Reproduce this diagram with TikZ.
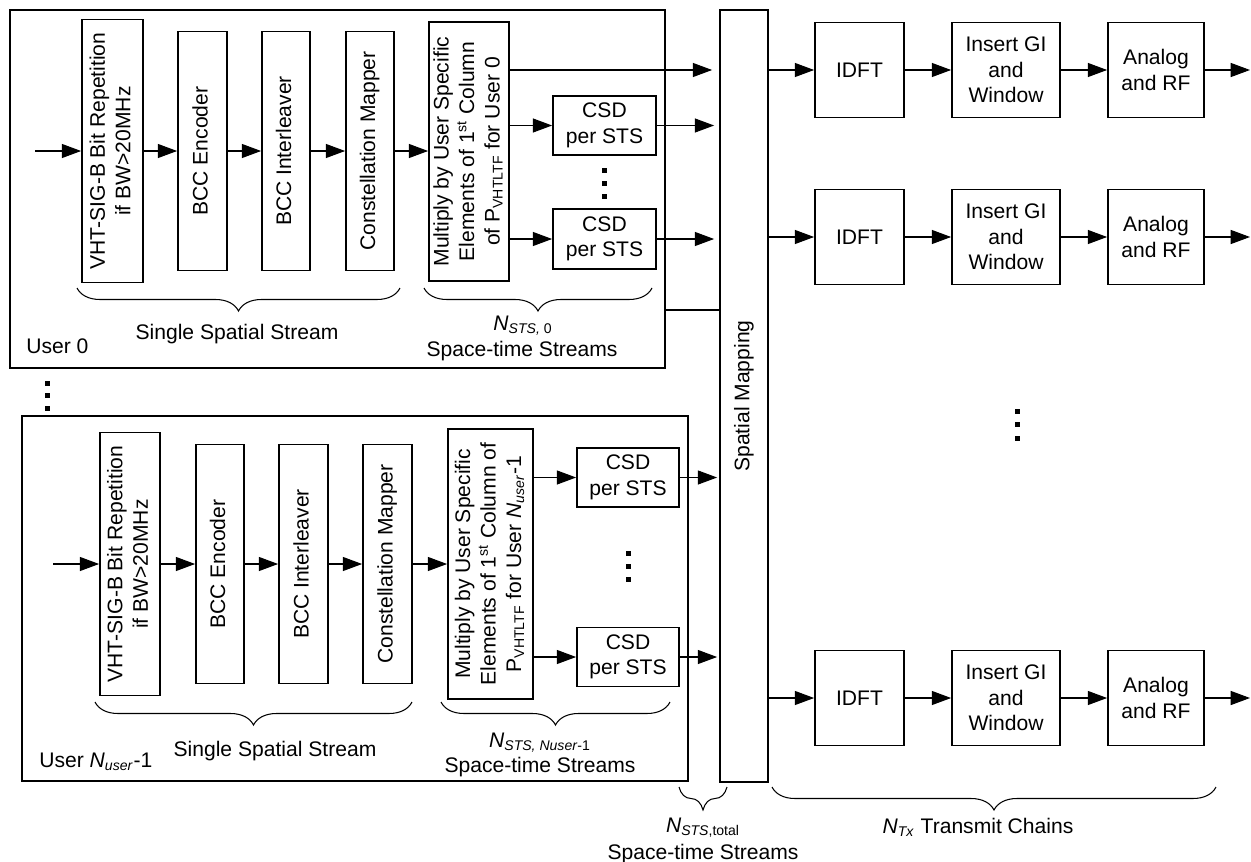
\documentclass[tikz,border=0pt]{standalone}
\usepackage{fontspec}
\setmainfont{Liberation Sans}
\usepackage{graphicx}
\usetikzlibrary{arrows.meta,decorations.pathreplacing}
\newcommand{\rottext}[1]{\rotatebox{90}{\begin{tabular}{@{}c@{}}#1\end{tabular}}}
\begin{document}
\begin{tikzpicture}[x=0.02cm,y=-0.02cm,
  font=\fontsize{12}{14.5}\selectfont,
  box/.style 2 args={draw,line width=1pt,inner sep=0pt,minimum width=#1*0.02cm,minimum height=#2*0.02cm,align=center},
  arr/.style={line width=0.6pt,-{Triangle[length=11pt,width=8pt]}},
  ln/.style={line width=0.6pt},
  brc/.style={decorate,decoration={brace,mirror,amplitude=0.46cm},line width=0.6pt},
  dotsq/.style={fill=black,inner sep=0pt,minimum size=0.1cm},
  lbl/.style={inner sep=0pt}]
\useasboundingbox (0,0) rectangle (1251,862);

% ---------- User 0 ----------
\node[box={655}{358}] (u0) at (337.5,189) {};
\node[box={61}{263}] (vht0) at (112.5,151) {\rottext{VHT-SIG-B Bit Repetition\\if BW>20MHz}};
\node[box={49}{239}] (enc0) at (202.5,151) {\rottext{BCC Encoder}};
\node[box={48}{239}] (int0) at (286,151) {\rottext{BCC Interleaver}};
\node[box={48}{239}] (map0) at (370,151) {\rottext{Constellation Mapper}};
\node[box={80}{259}] (mul0) at (469,151.5) {\rottext{Multiply by User Specific\\Elements of 1\textsuperscript{st} Column\\of P\textsubscript{VHTLTF} for User 0}};
\node[box={103}{59}] (c0a) at (604.5,125.5) {CSD\\per STS};
\node[box={103}{60}] (c0b) at (604.5,239) {CSD\\per STS};

% ---------- Spatial mapping ----------
\node[box={48}{772}] (sm) at (744,396) {\rotatebox{90}{Spatial Mapping}};

% ---------- User Nuser-1 ----------
\node[box={666}{365}] (u1) at (355,598.5) {};
\node[box={60}{263}] (vht1) at (130,564) {\rottext{VHT-SIG-B Bit Repetition\\if BW>20MHz}};
\node[box={48}{239}] (enc1) at (220,564) {\rottext{BCC Encoder}};
\node[box={49}{239}] (int1) at (303.5,564) {\rottext{BCC Interleaver}};
\node[box={49}{239}] (map1) at (387.5,564) {\rottext{Constellation Mapper}};
\node[box={85}{270}] (mul1) at (490.5,564) {\rottext{Multiply by User Specific\\Elements of 1\textsuperscript{st} Column of\\P\textsubscript{VHTLTF} for User \textit{N}\textsubscript{\textit{user}}-1}};
\node[box={102}{59}] (c1a) at (628,477.5) {CSD\\per STS};
\node[box={102}{59}] (c1b) at (628,657) {CSD\\per STS};

% ---------- coordinates ----------
\coordinate (in0) at (35,151);
\coordinate (in1) at (53,564);
\coordinate (y70) at (0,70);
\coordinate (y310) at (0,310);

% ---------- user 0 connectors ----------
\draw[arr] (in0) -- (vht0.west);
\draw[arr] (vht0.east) -- (enc0.west);
\draw[arr] (enc0.east) -- (int0.west);
\draw[arr] (int0.east) -- (map0.west);
\draw[arr] (map0.east) -- (mul0.west |- map0.east);
\draw[arr] (mul0.east |- c0a.west) -- (c0a.west);
\draw[arr] (mul0.east |- c0b.west) -- (c0b.west);
\draw[arr,shorten >=0.14cm] (mul0.east |- y70) -- (sm.west |- y70);
\draw[arr,shorten >=0.1cm] (c0a.east) -- (sm.west |- c0a.east);
\draw[arr,shorten >=0.1cm] (c0b.east) -- (sm.west |- c0b.east);
\draw[ln] (u0.east |- y310) -- (sm.west |- y310);

% ---------- user Nuser-1 connectors ----------
\draw[arr] (in1) -- (vht1.west);
\draw[arr] (vht1.east) -- (enc1.west);
\draw[arr] (enc1.east) -- (int1.west);
\draw[arr] (int1.east) -- (map1.west);
\draw[arr] (map1.east) -- (mul1.west);
\draw[arr] (mul1.east |- c1a.west) -- (c1a.west);
\draw[arr] (mul1.east |- c1b.west) -- (c1b.west);
\draw[arr,shorten >=0.04cm] (c1a.east) -- (sm.west |- c1a.east);
\draw[arr,shorten >=0.04cm] (c1b.east) -- (sm.west |- c1b.east);

% ---------- transmit chains ----------
\foreach \r/\yy in {1/70,2/237,3/698}{
  \node[box={89}{95}] (idft\r) at (859.5,\yy) {IDFT};
  \node[box={108}{95}] (gi\r) at (1006,\yy) {Insert GI\\and\\Window};
  \node[box={96}{95}] (rf\r) at (1156,\yy) {Analog\\and RF};
  \coordinate (out\r) at (1250,\yy);
  \draw[arr] (sm.east |- idft\r.west) -- (idft\r.west);
  \draw[arr] (idft\r.east) -- (gi\r.west);
  \draw[arr] (gi\r.east) -- (rf\r.west);
  \draw[arr] (rf\r.east) -- (out\r);
}

% ---------- dots ----------
\node[dotsq] (dl1) at (47,383) {};
\node[dotsq] (dl2) at (47,395.5) {};
\node[dotsq] (dl3) at (47,408) {};
\node[dotsq] (da1) at (604,170) {};
\node[dotsq] (da2) at (604,183) {};
\node[dotsq] (da3) at (604,196) {};
\node[dotsq] (db1) at (628,553) {};
\node[dotsq] (db2) at (628,566) {};
\node[dotsq] (db3) at (628,579) {};
\node[dotsq] (dr1) at (1017,411) {};
\node[dotsq] (dr2) at (1017,424.5) {};
\node[dotsq] (dr3) at (1017,438) {};

% ---------- braces ----------
\draw[brc] (77,288) -- (400,288);
\draw[brc] (424,288) -- (652,288);
\draw[brc] (95,702) -- (412,702);
\draw[brc] (441,702) -- (670,702);
\draw[brc] (679,787) -- (727,787);
\draw[brc] (772,787) -- (1216,787);

% ---------- labels ----------
\node[lbl,anchor=base] (l0s) at (237,339) {Single Spatial Stream};
\node[lbl,anchor=base west] (l0u) at (26,353) {User 0};
\node[lbl,anchor=base] (l0n) at (523,330) {\textit{N}\textsubscript{\textit{STS,} 0}};
\node[lbl,anchor=base] (l0t) at (522,356) {Space-time Streams};
\node[lbl,anchor=base] (l1s) at (275,756) {Single Spatial Stream};
\node[lbl,anchor=base west] (l1u) at (39,767) {User \textit{N}\textsubscript{\textit{user}}-1};
\node[lbl,anchor=base] (l1n) at (540,747) {\textit{N}\textsubscript{\textit{STS, Nuser}-1}};
\node[lbl,anchor=base] (l1t) at (540,772) {Space-time Streams};
\node[lbl,anchor=base] (ltn) at (703,832) {\textit{N}\textsubscript{\textit{STS},total}};
\node[lbl,anchor=base] (ltt) at (703,859) {Space-time Streams};
\node[lbl,anchor=base] (lx) at (978,833) {\textit{N}\textsubscript{\textit{Tx}} Transmit Chains};
\end{tikzpicture}
\end{document}
